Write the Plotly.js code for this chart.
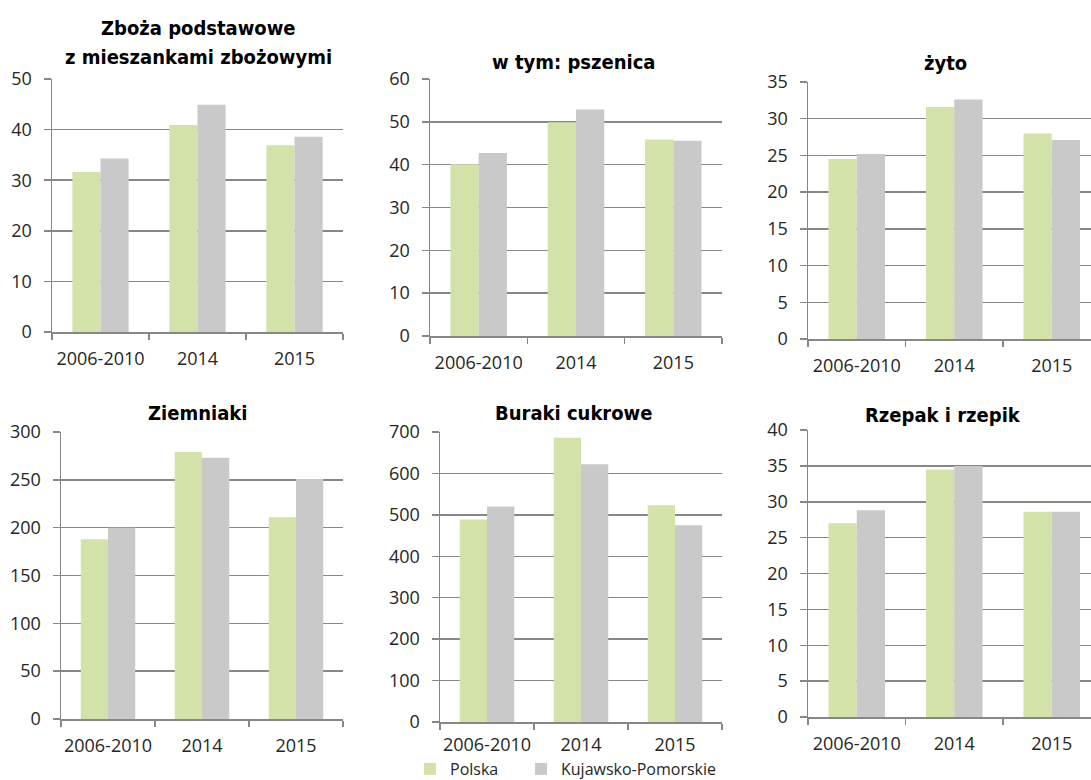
<!DOCTYPE html>
<html>
<head>
<meta charset="utf-8">
<script src="https://cdn.plot.ly/plotly-3.0.1.min.js"></script>
<style>html,body{margin:0;padding:0;overflow:hidden;background:#fff}</style>
</head>
<body>
<div id="chart" style="width:1091px;height:800px"></div>
<script>
// ---- data ----
var categories = ['2006-2010', '2014', '2015'];
var seriesNames = ['Polska', 'Kujawsko-Pomorskie'];
var panelTitles = [['Zboża podstawowe', 'z mieszankami zbożowymi'], ['w tym: pszenica'], ['żyto'],
                   ['Ziemniaki'], ['Buraki cukrowe'], ['Rzepak i rzepik']];

var zbozaPolska = [31.6, 40.9, 36.9];
var zbozaKP     = [34.3, 44.9, 38.6];
var pszenicaPolska = [40.1, 49.9, 45.9];
var pszenicaKP     = [42.7, 52.9, 45.6];
var zytoPolska = [24.5, 31.6, 28.0];
var zytoKP     = [25.2, 32.6, 27.1];
var ziemniakiPolska = [188, 279, 211];
var ziemniakiKP     = [200, 273, 251];
var burakiPolska = [489, 686, 523];
var burakiKP     = [520, 622, 475];
var rzepakPolska = [27.0, 34.5, 28.6];
var rzepakKP     = [28.8, 35.0, 28.6];

var yMax  = [50, 60, 35, 300, 700, 40];
var yStep = [10, 10, 5, 50, 100, 5];

var polskaSeries = [zbozaPolska, pszenicaPolska, zytoPolska, ziemniakiPolska, burakiPolska, rzepakPolska];
var kpSeries     = [zbozaKP, pszenicaKP, zytoKP, ziemniakiKP, burakiKP, rzepakKP];

// ---- style / layout ----
var W = 1091, H = 800; // window is 780 tall
var green = '#D3E2A9', grey = '#C9C9C9', axisCol = '#878787';
var tickFont = {family: 'Open Sans, Lato, sans-serif', size: 18, color: '#262626'};
var titleFont = {family: 'DejaVu Sans Condensed, DejaVu Sans, sans-serif', size: 20, color: '#000', weight: 'bold'};
var legendFont = {family: 'Open Sans, Lato, sans-serif', size: 16, color: '#262626'};

// pixel boxes [left, right, top(ymax), bottom(zero)], category width, label standoff
var boxes = [
  [52, 343, 79, 332, 97, 10],
  [430, 722, 79, 336, 97.3, 10],
  [808, 1091, 82, 339, 97.5, 10],
  [61, 343, 432, 719, 94, 10],
  [440, 722, 432, 722, 94, 6],
  [808, 1091, 430, 717, 97.5, 10]
];
var titlePos = [[198, [28, 57]], [573, [62]], [945, [63]], [197, [413]], [573, [413]], [943, [415]]];
var legendY = 769;

var data = [];
var layout = {
  width: W, height: H,
  margin: {l: 0, r: 0, t: 0, b: 0, autoexpand: false},
  paper_bgcolor: '#fff', plot_bgcolor: 'rgba(0,0,0,0)',
  barmode: 'group', bargap: 0.42, bargroupgap: 0,
  showlegend: true,
  legend: {orientation: 'h', x: 410 / W, xanchor: 'left', y: (H - legendY) / H, yanchor: 'middle',
           font: legendFont, bgcolor: 'rgba(0,0,0,0)'},
  legend2: {orientation: 'h', x: 521 / W, xanchor: 'left', y: (H - legendY) / H, yanchor: 'middle',
           font: legendFont, bgcolor: 'rgba(0,0,0,0)'},
  annotations: []
};

for (var i = 0; i < 6; i++) {
  var b = boxes[i];
  var sfx = i === 0 ? '' : String(i + 1);
  var xa = 'x' + sfx, ya = 'y' + sfx;
  var rangeEnd = -0.5 + (b[1] - b[0]) / b[4];
  data.push({type: 'bar', x: categories, y: polskaSeries[i], name: seriesNames[0],
             xaxis: xa, yaxis: ya, marker: {color: green, line: {width: 0}},
             legend: 'legend', legendgroup: 'pl', showlegend: i === 0, hoverinfo: 'y'});
  data.push({type: 'bar', x: categories, y: kpSeries[i], name: seriesNames[1],
             xaxis: xa, yaxis: ya, marker: {color: grey, line: {width: 0}},
             legend: 'legend2', legendgroup: 'kp', showlegend: i === 0, hoverinfo: 'y'});
  layout['xaxis' + sfx] = {
    domain: [b[0] / W, b[1] / W], anchor: ya, type: 'category',
    range: [-0.5, Math.min(2.5, rangeEnd)],
    showline: true, linecolor: axisCol, linewidth: 1.5,
    ticks: 'outside', tickson: 'boundaries', ticklen: 6, tickcolor: axisCol, tickwidth: 1.5,
    tickangle: 0, ticklabelstandoff: b[5],
    showgrid: false, zeroline: false, tickfont: tickFont, fixedrange: true
  };
  layout['yaxis' + sfx] = {
    domain: [(H - b[3]) / H, (H - b[2]) / H], anchor: xa,
    range: [0, yMax[i]], dtick: yStep[i], tick0: 0,
    showline: true, linecolor: axisCol, linewidth: 1.5,
    ticks: 'outside', ticklen: 7, tickcolor: axisCol, tickwidth: 1.5,
    showgrid: true, gridcolor: axisCol, gridwidth: 1.5,
    zeroline: false, tickfont: tickFont, ticklabelstandoff: 8, fixedrange: true
  };
  for (var k = 0; k < panelTitles[i].length; k++) {
    layout.annotations.push({
      text: panelTitles[i][k], xref: 'paper', yref: 'paper',
      x: titlePos[i][0] / W, y: (H - titlePos[i][1][k]) / H,
      xanchor: 'center', yanchor: 'middle', showarrow: false,
      font: titleFont, align: 'center'
    });
  }
}

Plotly.newPlot('chart', data, layout, {displayModeBar: false, staticPlot: true});
</script>
</body>
</html>
